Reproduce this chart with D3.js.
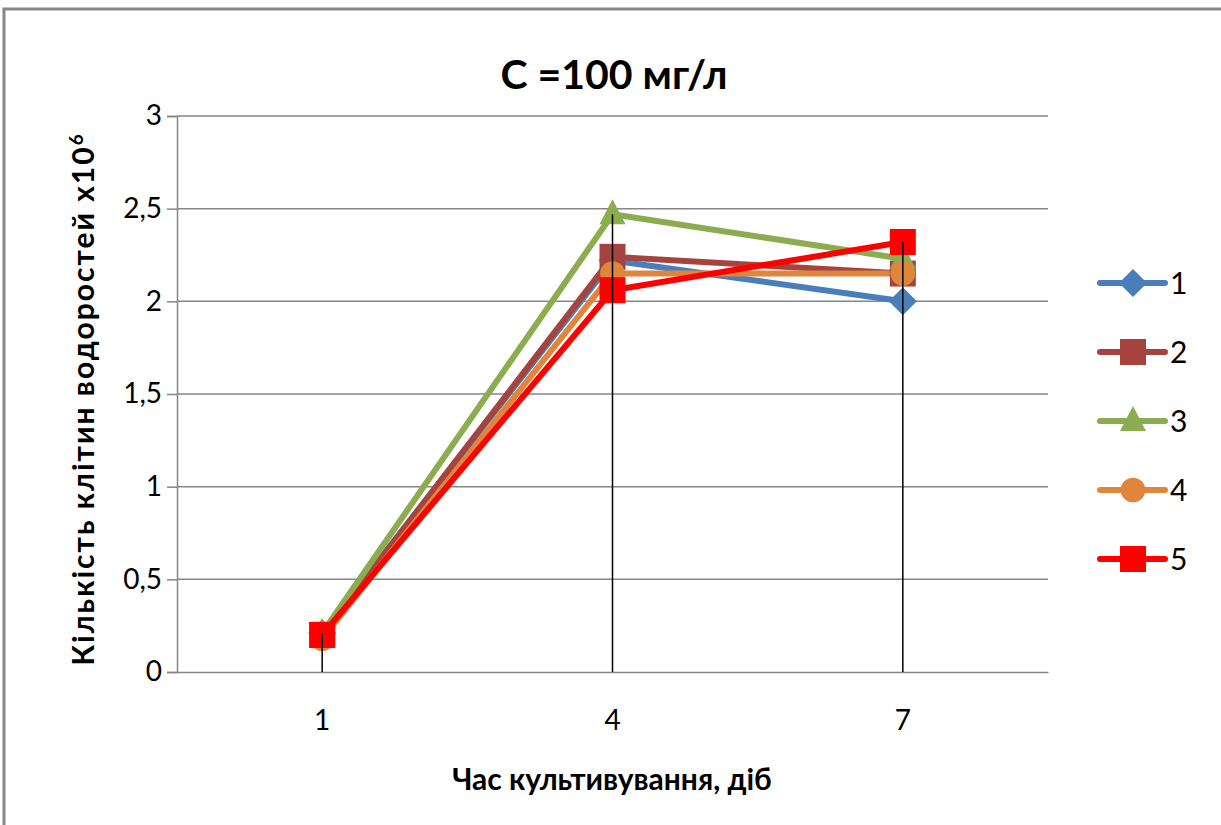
<!DOCTYPE html>
<html><head><meta charset="utf-8">
<script src="https://cdn.jsdelivr.net/npm/d3@7"></script>
<style>body{margin:0;background:#fff;} svg{display:block;}</style>
</head><body>
<svg id="chart" width="1221" height="825"></svg>
<script>
const categories = ["1", "4", "7"];
const seriesNames = ["1", "2", "3", "4", "5"];
const s1 = [0.21, 2.22, 2.00];
const s2 = [0.20, 2.24, 2.15];
const s3 = [0.21, 2.47, 2.23];
const s4 = [0.18, 2.15, 2.15];
const s5 = [0.20, 2.06, 2.32];
const yTicks = [0, 0.5, 1, 1.5, 2, 2.5, 3];
const colors = ["#4a7ebb", "#a5433f", "#8bad4f", "#e0863c", "#ff0000"];
const symbols = ["diamond", "square", "triangle", "circle", "square"];
const title = "C =100 мг/л";
const xTitle = "Час культивування, діб";
const yTitle = "Кількість клітин водоростей x10";

const series = [s1, s2, s3, s4, s5];
const svg = d3.select("#chart");
const font = "Lato, 'Open Sans', sans-serif";

svg.append("rect").attr("x", 4).attr("y", 9).attr("width", 1400).attr("height", 1000)
  .attr("fill", "#fff").attr("stroke", "#878787").attr("stroke-width", 3);

const x = d3.scaleBand().domain(categories).range([177, 1048]).padding(0);
const cx = c => x(c) + x.bandwidth() / 2;
const y = d3.scaleLinear().domain([0, 3]).range([672, 116]);

// gridlines
svg.append("g").selectAll("line").data(yTicks.slice(1)).join("line")
  .attr("x1", 177).attr("x2", 1048).attr("y1", d => y(d)).attr("y2", d => y(d))
  .attr("stroke", "#868686").attr("stroke-width", 1.5);

// y axis
const yAxis = svg.append("g").attr("transform", "translate(177,0)")
  .call(d3.axisLeft(y).tickValues(yTicks).tickSize(10).tickPadding(5)
    .tickFormat(d => String(d).replace(".", ",")));
yAxis.select(".domain").attr("stroke", "#868686").attr("stroke-width", 1.5);
yAxis.selectAll(".tick line").attr("stroke", "#868686").attr("stroke-width", 1.5);
yAxis.selectAll("text").attr("font-family", font).attr("font-size", 28).attr("fill", "#000");

// x axis
const xAxis = svg.append("g").attr("transform", "translate(0,672)")
  .call(d3.axisBottom(x).tickSize(0).tickPadding(38));
xAxis.select(".domain").attr("stroke", "#868686").attr("stroke-width", 1.5);
xAxis.selectAll("text").attr("font-family", font).attr("font-size", 28).attr("fill", "#000");

// lines
const line = d3.line().x((d, i) => cx(categories[i])).y(d => y(d));
series.forEach((s, k) => {
  svg.append("path").datum(s).attr("d", line).attr("fill", "none")
    .attr("stroke", colors[k]).attr("stroke-width", 6).attr("stroke-linejoin", "round")
    .attr("stroke-linecap", "round");
});

function markerPath(type) {
  if (type === "diamond") return "M0,-14L14,0L0,14L-14,0Z";
  if (type === "square") return "M-13,-13H13V13H-13Z";
  if (type === "triangle") return "M0,-15L13,10L-13,10Z";
  return d3.symbol(d3.symbolCircle, 480)();
}

series.forEach((s, k) => {
  svg.append("g").selectAll("path").data(s).join("path")
    .attr("d", markerPath(symbols[k]))
    .attr("transform", (d, i) => `translate(${cx(categories[i])},${y(d)})`)
    .attr("fill", colors[k]);
});

// drop lines
svg.append("g").selectAll("line").data(categories).join("line")
  .attr("x1", c => cx(c)).attr("x2", c => cx(c))
  .attr("y1", (c, i) => y(d3.max(series, s => s[i]))).attr("y2", y(0))
  .attr("stroke", "#000").attr("stroke-width", 1.5);

// title
svg.append("text").attr("x", 614).attr("y", 89).attr("text-anchor", "middle")
  .attr("font-family", font).attr("font-weight", "bold").attr("font-size", 41).text(title);

// x title
svg.append("text").attr("x", 612).attr("y", 790).attr("text-anchor", "middle")
  .attr("font-family", font).attr("font-weight", "bold").attr("font-size", 30).text(xTitle);

// y title
const yt = svg.append("text").attr("transform", "translate(94,399) rotate(-90)").attr("text-anchor", "middle")
  .attr("font-family", font).attr("font-weight", "bold").attr("font-size", 30)
  .attr("letter-spacing", 2);
yt.append("tspan").text(yTitle);
yt.append("tspan").attr("baseline-shift", "super").attr("font-size", 19).text("6");

// legend
const lg = svg.append("g");
seriesNames.forEach((n, k) => {
  const ly = 283 + k * 69;
  lg.append("line").attr("x1", 1100).attr("x2", 1165).attr("y1", ly).attr("y2", ly)
    .attr("stroke", colors[k]).attr("stroke-width", 6).attr("stroke-linecap", "round");
  lg.append("path").attr("d", markerPath(symbols[k])).attr("transform", `translate(1133,${ly})`)
    .attr("fill", colors[k]);
  lg.append("text").attr("x", 1170).attr("y", ly + 11).attr("font-family", font)
    .attr("font-size", 30).text(n);
});
</script>
</body></html>
